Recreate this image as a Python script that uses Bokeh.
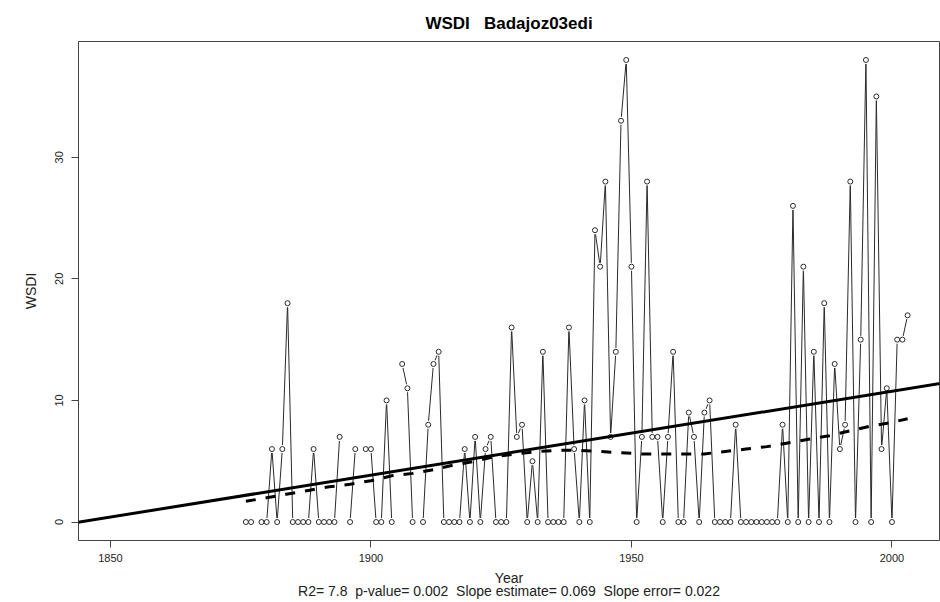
import math
from bokeh.plotting import figure
from bokeh.models import Range1d, FixedTicker, Slope, ColumnDataSource
from bokeh.embed import file_html
from bokeh.resources import INLINE

NaN = float("nan")

# ---- data ----
years = list(range(1876, 2004))
wsdi = [
    0, 0, NaN, 0, 0, 6, 0, 6, 18, 0,          # 1876-1885
    0, 0, 0, 6, 0, 0, 0, 0, 7, NaN,           # 1886-1895
    0, 6, NaN, 6, 6, 0, 0, 10, 0, NaN,        # 1896-1905
    13, 11, 0, NaN, 0, 8, 13, 14, 0, 0,       # 1906-1915
    0, 0, 6, 0, 7, 0, 6, 7, 0, 0,             # 1916-1925
    0, 16, 7, 8, 0, 5, 0, 14, 0, 0,           # 1926-1935
    0, 0, 16, 6, 0, 10, 0, 24, 21, 28,        # 1936-1945
    7, 14, 33, 38, 21, 0, 7, 28, 7, 7,        # 1946-1955
    0, 7, 14, 0, 0, 9, 7, 0, 9, 10,           # 1956-1965
    0, 0, 0, 0, 8, 0, 0, 0, 0, 0,             # 1966-1975
    0, 0, 0, 8, 0, 26, 0, 21, 0, 14,          # 1976-1985
    0, 18, 0, 13, 6, 8, 28, 0, 15, 38,        # 1986-1995
    0, 35, 6, 11, 0, 15, 15, 17,              # 1996-2003
]

trend_years = [1876, 1880, 1884, 1888, 1892, 1896, 1900, 1904, 1908, 1912,
               1916, 1920, 1924, 1928, 1932, 1936, 1940, 1944, 1948, 1952,
               1956, 1960, 1964, 1968, 1972, 1976, 1980, 1984, 1988, 1992,
               1996, 2000, 2003]
trend_values = [1.7, 2.0, 2.3, 2.6, 2.9, 3.1, 3.4, 3.8, 4.0, 4.3,
                4.7, 5.0, 5.4, 5.6, 5.8, 5.9, 5.9, 5.8, 5.7, 5.6,
                5.6, 5.6, 5.6, 5.8, 6.0, 6.2, 6.5, 6.8, 7.1, 7.5,
                7.9, 8.2, 8.5]

reg_slope = 0.069
reg_at_1876 = 2.2

x_ticks = [1850, 1900, 1950, 2000]
y_ticks = [0, 10, 20, 30]
x_data_span = [1850, 2003]
y_data_span = [0, 38]

NB = "\u00a0"
title_text = "WSDI" + NB * 3 + "Badajoz03edi"
x_label = "Year"
y_label = "WSDI"
stats_text = ("R2= 7.8" + NB * 2 + "p-value= 0.002" + NB * 2 +
              "Slope estimate= 0.069" + NB * 2 + "Slope error= 0.022")

FONT = "Liberation Sans"

# R-style 4% axis extension
xpad = 0.04 * (x_data_span[1] - x_data_span[0])
ypad = 0.04 * (y_data_span[1] - y_data_span[0])
x_lo, x_hi = x_data_span[0] - xpad, x_data_span[1] + xpad

p = figure(width=940, height=602, output_backend="svg", toolbar_location=None,
           x_range=Range1d(x_lo, x_hi),
           y_range=Range1d(y_data_span[0] - ypad, y_data_span[1] + ypad),
           min_border_left=78, min_border_right=1, min_border_top=41,
           min_border_bottom=61)
p.background_fill_color = "white"
p.border_fill_color = "white"
p.outline_line_color = "#444444"
p.outline_line_width = 1
p.grid.visible = False

p.title.text = title_text
p.title.align = "center"
p.title.text_font = FONT
p.title.text_font_size = "17px"
p.title.text_font_style = "bold"
p.title.text_color = "black"
p.title.standoff = 18

for ax in (p.xaxis[0], p.yaxis[0]):
    ax.axis_line_color = None
    ax.major_tick_out = 7
    ax.major_tick_in = 0
    ax.minor_tick_line_color = None
    ax.major_tick_line_color = "#444444"
    ax.major_label_text_font = FONT
    ax.major_label_text_font_size = "11px"
    ax.major_label_text_color = "#222222"
    ax.axis_label_text_font = FONT
    ax.axis_label_text_font_size = "14px"
    ax.axis_label_text_font_style = "normal"
    ax.axis_label_text_color = "#222222"

p.xaxis.ticker = FixedTicker(ticks=x_ticks)
p.yaxis.ticker = FixedTicker(ticks=y_ticks)
p.xaxis.axis_label = x_label + "\n" + stats_text
p.xaxis.axis_label_text_line_height = 0.85
p.yaxis.axis_label = y_label
p.xaxis.major_label_standoff = 6
p.xaxis.axis_label_standoff = 5
p.yaxis.major_label_orientation = "vertical"
p.yaxis.major_label_standoff = 8
p.yaxis.axis_label_standoff = 14

src = ColumnDataSource(data=dict(x=years, y=wsdi))
p.line("x", "y", source=src, line_color="#2a2a2a", line_width=1)
# white halo to mimic R's type="b" gaps around points
p.scatter("x", "y", source=src, size=8, marker="circle",
          fill_color="white", line_color=None)
p.scatter("x", "y", source=src, size=5, marker="circle",
          fill_color="white", line_color="#2a2a2a", line_width=1)

p.line(trend_years, trend_values, line_color="black", line_width=3,
       line_dash="10 10")
p.add_layout(Slope(gradient=reg_slope,
                   y_intercept=reg_at_1876 - reg_slope * 1876,
                   line_color="black", line_width=3))

open("out.html", "w").write(file_html(p, INLINE))
